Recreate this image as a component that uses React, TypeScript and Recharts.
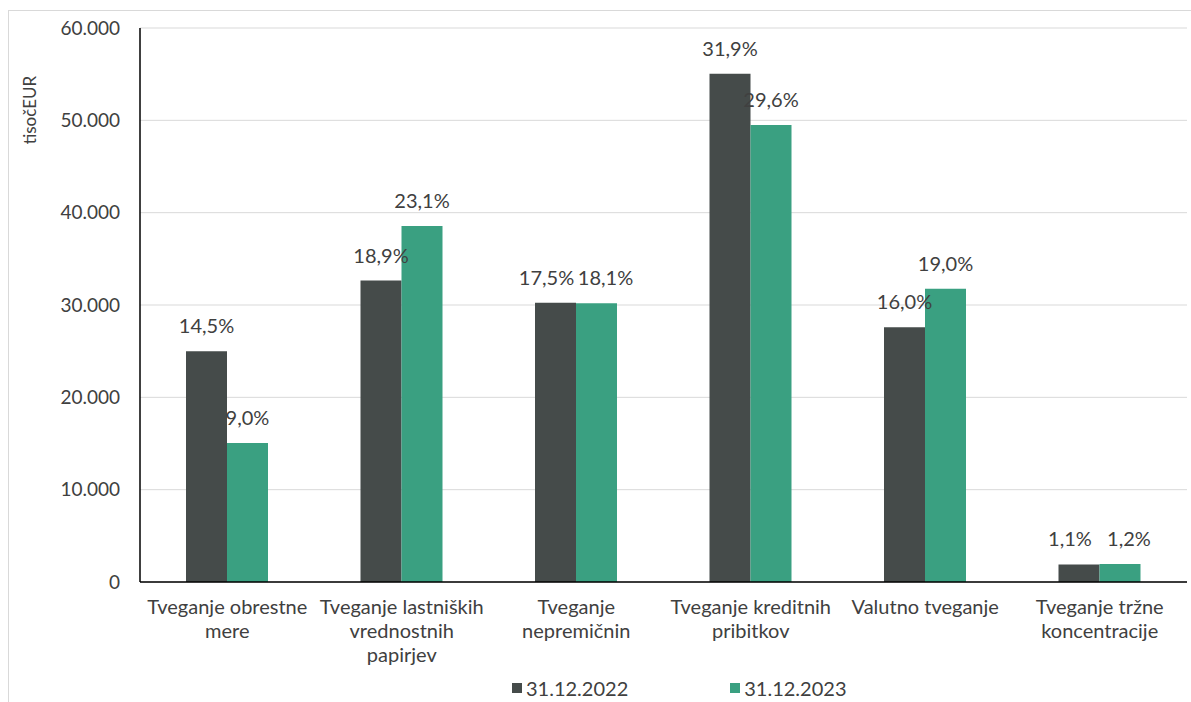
import React from "react";
import {
  BarChart,
  Bar,
  XAxis,
  YAxis,
  CartesianGrid,
  Legend,
  LabelList,
} from "recharts";

const categories = [
  "Tveganje obrestne\nmere",
  "Tveganje lastniških\nvrednostnih\npapirjev",
  "Tveganje\nnepremičnin",
  "Tveganje kreditnih\npribitkov",
  "Valutno tveganje",
  "Tveganje tržne\nkoncentracije",
];

const values2022 = [25000, 32650, 30250, 55050, 27600, 1900];
const values2023 = [15050, 38550, 30200, 49500, 31750, 1950];

const shares2022 = ["14,5%", "18,9%", "17,5%", "31,9%", "16,0%", "1,1%"];
const shares2023 = ["9,0%", "23,1%", "18,1%", "29,6%", "19,0%", "1,2%"];

const yTicks = [0, 10000, 20000, 30000, 40000, 50000, 60000];

const seriesNames = ["31.12.2022", "31.12.2023"];
const colors = ["#454B4A", "#3AA081"];

const FONT = "Lato, 'Liberation Sans', sans-serif";
const TEXT = "#404040";

const data = categories.map((name, i) => ({
  name,
  v2022: values2022[i],
  v2023: values2023[i],
  s2022: shares2022[i],
  s2023: shares2023[i],
}));

const formatThousands = (v: number) =>
  v === 0 ? "0" : v.toLocaleString("de-DE");

function CategoryTick(props: any) {
  const { x, y, payload } = props;
  const lines = String(payload.value).split("\n");
  return (
    <text
      x={x}
      y={y}
      textAnchor="middle"
      fill={TEXT}
      fontSize={20}
      fontFamily={FONT}
    >
      {lines.map((line: string, i: number) => (
        <tspan key={i} x={x} dy={24}>
          {line}
        </tspan>
      ))}
    </text>
  );
}

// labels of neighbouring bars with similar height get pushed apart a little
const makeShareLabel = (side: -1 | 1) => (props: any) => {
  const { x, y, width, value, index } = props;
  const close = Math.abs(values2022[index] - values2023[index]) < 3000;
  const nudge = close ? side * 9 : 0;
  return (
    <text
      x={x + width / 2 + nudge}
      y={y - 18}
      textAnchor="middle"
      fill={TEXT}
      fontSize={20}
      fontFamily={FONT}
    >
      {value}
    </text>
  );
};

function LegendContent(props: any) {
  const { payload } = props;
  return (
    <div
      style={{
        display: "flex",
        justifyContent: "flex-start",
        paddingLeft: 512,
        gap: 102,
        fontFamily: FONT,
        fontSize: 20,
        color: TEXT,
      }}
    >
      {(payload || []).map((p: any) => (
        <div
          key={p.value}
          style={{ display: "flex", alignItems: "center", gap: 4 }}
        >
          <span
            style={{
              width: 10,
              height: 10,
              background: p.color,
              display: "inline-block",
            }}
          />
          <span>{p.value}</span>
        </div>
      ))}
    </div>
  );
}

export default function App() {
  return (
    <div
      style={{
        position: "fixed",
        left: 0,
        top: 0,
        width: 1191,
        height: 702,
        background: "#fff",
        overflow: "hidden",
      }}
    >
      <div
        style={{
          position: "absolute",
          left: 8,
          top: 10,
          width: 1200,
          height: 720,
          border: "1px solid #D9D9D9",
        }}
      />
      <BarChart
        width={1191}
        height={702}
        data={data}
        margin={{ top: 28, right: 4, bottom: 0, left: 60 }}
        barGap={0}
        style={{ position: "absolute", left: 0, top: 0 }}
      >
        <CartesianGrid vertical={false} stroke="#D9D9D9" strokeWidth={1} />
        <XAxis
          dataKey="name"
          interval={0}
          height={120}
          tickLine={false}
          axisLine={{ stroke: "#000", strokeWidth: 1.5 }}
          tick={<CategoryTick />}
        />
        <YAxis
          width={80}
          domain={[0, 60000]}
          ticks={yTicks}
          tickFormatter={formatThousands}
          tickLine={false}
          tickMargin={14}
          axisLine={{ stroke: "#000", strokeWidth: 1.5 }}
          tick={{ fill: TEXT, fontSize: 19, fontFamily: FONT }}
          label={{
            content: () => (
              <text
                x={36}
                y={110}
                transform="rotate(-90 36 110)"
                textAnchor="middle"
                fill={TEXT}
                fontSize={17}
                fontFamily={FONT}
              >
                tisočEUR
              </text>
            ),
          }}
        />
        <Legend
          layout="horizontal"
          verticalAlign="middle"
          align="center"
          content={<LegendContent />}
          wrapperStyle={{ position: "absolute", top: 676, left: 0, width: 1191 }}
        />
        <Bar
          dataKey="v2022"
          name={seriesNames[0]}
          fill={colors[0]}
          barSize={41}
          isAnimationActive={false}
        >
          <LabelList dataKey="s2022" content={makeShareLabel(-1)} />
        </Bar>
        <Bar
          dataKey="v2023"
          name={seriesNames[1]}
          fill={colors[1]}
          barSize={41}
          isAnimationActive={false}
        >
          <LabelList dataKey="s2023" content={makeShareLabel(1)} />
        </Bar>
      </BarChart>
    </div>
  );
}
